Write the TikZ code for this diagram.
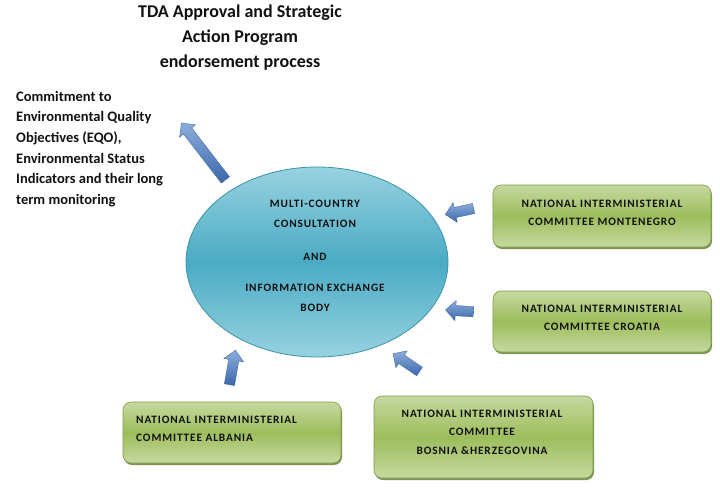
\documentclass[tikz,border=0pt]{standalone}
\usepackage{fontspec}
\setmainfont{Carlito}
\newfontfamily\spacedfont[LetterSpace=8]{Carlito}
\usetikzlibrary{shapes.geometric,shapes.arrows,shadows}
\definecolor{ellTop}{HTML}{98D2E0}
\definecolor{ellMid}{HTML}{4AABC4}
\definecolor{ellEdge}{HTML}{3B93A9}
\definecolor{boxTop}{HTML}{C6D9A0}
\definecolor{boxMid}{HTML}{9DBD5C}
\definecolor{boxEdge}{HTML}{7E9C47}
\definecolor{boxShadow}{HTML}{5E7A2C}
\definecolor{arrLight}{HTML}{8DAEDC}
\definecolor{arrDark}{HTML}{3A67A9}
\definecolor{arrEdge}{HTML}{34609E}
\definecolor{ink}{HTML}{111111}
\tikzset{
  cbox/.style={rectangle, rounded corners=8pt, draw=boxEdge, line width=0.6pt,
    top color=boxTop, bottom color=boxTop, middle color=boxMid,
    drop shadow={shadow xshift=1pt, shadow yshift=-2pt, fill=boxShadow, opacity=0.8},
    inner sep=0pt},
  ctext/.style={font=\spacedfont\fontsize{11.3}{18.5}\selectfont\bfseries, text=ink, inner sep=0pt},
  blockarr/.style={single arrow, single arrow head extend=5pt, single arrow tip angle=90,
    minimum width=20pt, inner xsep=0pt, inner ysep=5pt, draw=arrEdge, line width=0.3pt,
    top color=arrLight, bottom color=arrDark},
  ttl/.style={font=\fontsize{18}{25}\selectfont\bfseries, text=ink, align=center, inner sep=0pt},
  lft/.style={font=\fontsize{14.5}{20.6}\selectfont\bfseries, text=ink, align=left, inner sep=0pt}
}
\begin{document}
\begin{tikzpicture}[x=1pt,y=1pt]
\useasboundingbox (0,0) rectangle (720,-498);
% title
\node[ttl] (title) at (240,-38) {TDA Approval and Strategic\\Action Program\\endorsement process};
% left text
\node[lft, anchor=north west] (commit) at (16,-91) {Commitment to\\Environmental Quality\\Objectives (EQO),\\Environmental Status\\Indicators and their long\\term monitoring};
% central ellipse
\node[ellipse, minimum width=262pt, minimum height=190pt, inner sep=0pt,
  top color=ellTop, bottom color=ellTop, middle color=ellMid, draw=ellEdge, line width=0.8pt]
  (body) at (317,-262) {};
\node[ctext, align=center, font=\spacedfont\fontsize{11.3}{20}\selectfont\bfseries] (bodytext) at (315,-256)
  {MULTI-COUNTRY\\CONSULTATION\\[13pt]AND\\[11pt]INFORMATION EXCHANGE\\BODY};
% boxes
\node[cbox, minimum width=218pt, minimum height=62pt] (mon) at (602,-216) {};
\node[ctext, align=center] (montext) at (602,-213) {NATIONAL INTERMINISTERIAL\\COMMITTEE MONTENEGRO};
\node[cbox, minimum width=218pt, minimum height=61pt] (cro) at (602,-321.5) {};
\node[ctext, align=center] (crotext) at (602,-318) {NATIONAL INTERMINISTERIAL\\COMMITTEE CROATIA};
\node[cbox, minimum width=218pt, minimum height=61pt] (alb) at (232,-432.5) {};
\node[ctext, align=left, anchor=west] (albtext) at (136,-429) {NATIONAL INTERMINISTERIAL\\COMMITTEE ALBANIA};
\node[cbox, minimum width=219pt, minimum height=82pt] (bos) at (483.5,-437) {};
\node[ctext, align=center] (bostext) at (482,-432) {NATIONAL INTERMINISTERIAL\\COMMITTEE\\BOSNIA \&HERZEGOVINA};
% arrows
\node[blockarr, minimum height=72pt, rotate=127.7] (a1) at (205,-153.5) {};
\node[blockarr, minimum height=29pt, rotate=192] (a2) at (462,-211) {};
\node[blockarr, minimum height=28pt, rotate=176] (a3) at (462,-311) {};
\node[blockarr, minimum height=35pt, rotate=80] (a4) at (232,-370) {};
\node[blockarr, minimum height=32pt, rotate=146] (a5) at (408.5,-364) {};
\end{tikzpicture}
\end{document}
